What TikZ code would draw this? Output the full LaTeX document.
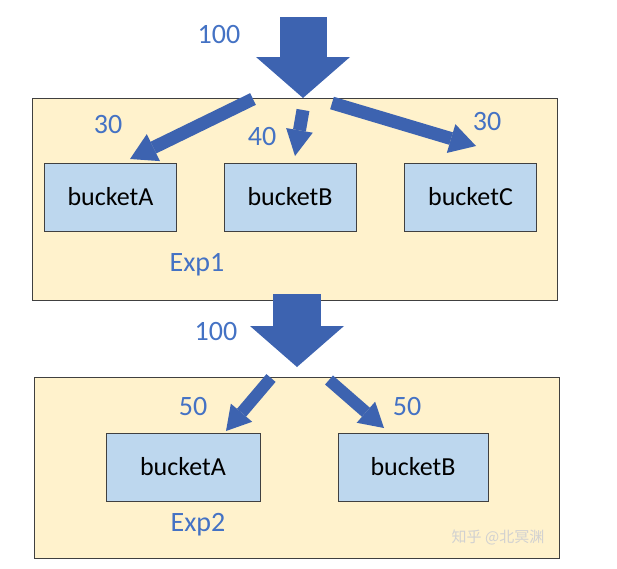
\documentclass[tikz,border=0pt]{standalone}
\usepackage{fontspec}
\setmainfont{Carlito}
\newfontfamily\cjk{Noto Sans CJK SC}
\usetikzlibrary{arrows.meta}
\definecolor{expfill}{RGB}{255,242,204}
\definecolor{bkfill}{RGB}{189,215,238}
\definecolor{arrblue}{RGB}{61,99,176}
\definecolor{numblue}{RGB}{68,114,196}
\tikzstyle{expbox}=[shape=rectangle, draw=black!75, fill=expfill, line width=1pt, inner sep=0]
\tikzstyle{bk}=[shape=rectangle, draw=black!75, fill=bkfill, line width=1pt, inner sep=0, minimum height=68pt, font=\fontsize{26}{30}\selectfont]
\tikzstyle{num}=[text=numblue, inner sep=0, font=\fontsize{28}{32}\selectfont]
\tikzstyle{bigarr}=[draw=arrblue, line width=47pt, -{Triangle[width=94pt,length=41pt,line width=0pt]}]
\tikzstyle{fatarr}=[draw=arrblue, line width=13pt, -{Triangle[width=30pt,length=26pt,line width=0pt]}]

\begin{document}
\begin{tikzpicture}[x=1pt,y=-1pt]
\useasboundingbox (0,0) rectangle (617,568);
% Exp1
\node[expbox, minimum width=525pt, minimum height=202pt] (exp1) at (294.5,199) {};
\foreach \n/\x in {A/110.5,B/290,C/470.5}{\node[bk, minimum width=132pt] (t\n) at (\x,197) {bucket\n};}
\node[num] (lexp1) at (197,265) {Exp1};
% Exp2
\node[expbox, minimum width=525pt, minimum height=181pt] (exp2) at (296.5,467.5) {};
\node[bk, minimum width=154pt] (bA) at (183,467) {bucketA};
\node[bk, minimum width=150pt] (bB) at (413,467) {bucketB};
\node[num] (lexp2) at (198,525) {Exp2};
\node[text=black!18, inner sep=0, font=\cjk\fontsize{15}{18}\selectfont] (wm) at (498,537) {知乎 @北冥渊};
% arrow ends
\coordinate (in1) at (303,17);  \coordinate (out1) at (303,98);
\coordinate (in2) at (297,294); \coordinate (out2) at (297,367);
\coordinate (sA) at (253,99);   \coordinate (eA) at (130,159);
\coordinate (sB) at (303,110);  \coordinate (eB) at (295,156);
\coordinate (sC) at (332,103);  \coordinate (eC) at (476,146);
\coordinate (sD) at (271,378);  \coordinate (eD) at (226,431);
\coordinate (sE) at (329,380);  \coordinate (eE) at (384,428);
\draw[bigarr] (in1) -- (out1);
\draw[bigarr, line width=48pt] (in2) -- (out2);
\draw[fatarr] (sA) -- (eA);
\draw[fatarr, -{Triangle[width=27pt,length=26pt,line width=0pt]}] (sB) -- (eB);
\draw[fatarr] (sC) -- (eC);
\draw[fatarr, line width=12pt, -{Triangle[width=28pt,length=24pt,line width=0pt]}] (sD) -- (eD);
\draw[fatarr, line width=12pt, -{Triangle[width=28pt,length=24pt,line width=0pt]}] (sE) -- (eE);
% numbers
\node[num] (n100a) at (219,35) {100};
\node[num] (n30a) at (108,125) {30};
\node[num] (n40) at (262,137) {40};
\node[num] (n30c) at (487,122) {30};
\node[num] (n100b) at (216,332) {100};
\node[num] (n50a) at (193,407) {50};
\node[num] (n50b) at (407,407) {50};
\end{tikzpicture}
\end{document}
